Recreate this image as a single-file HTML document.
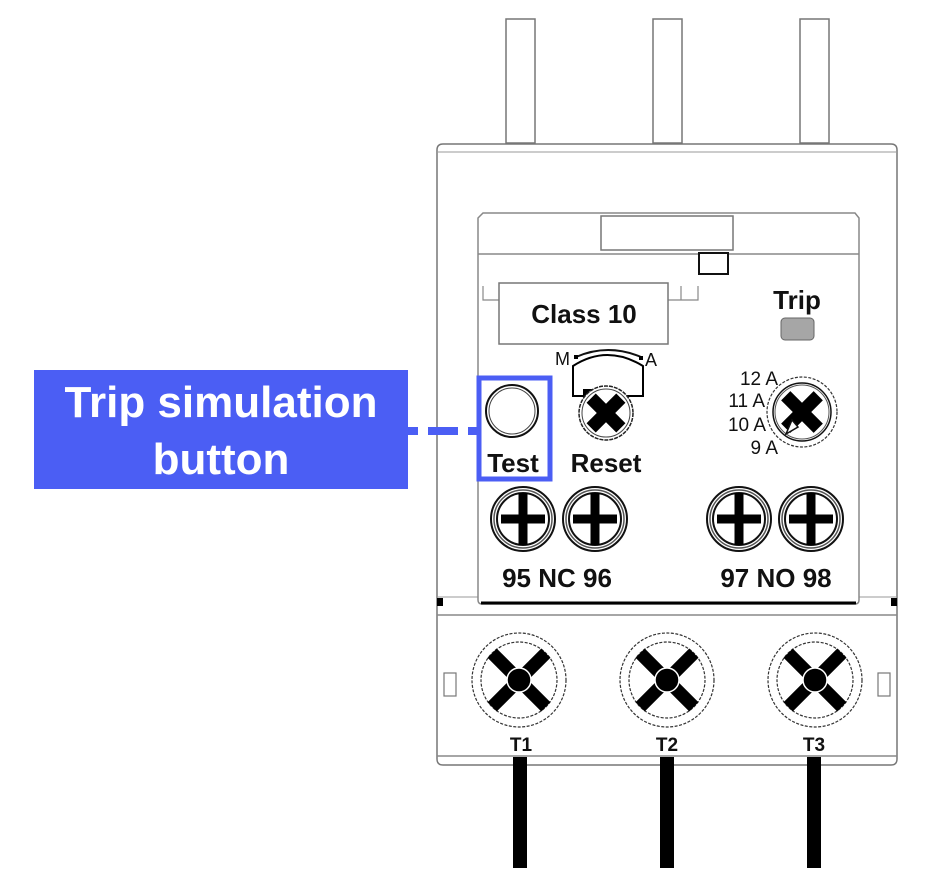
<!DOCTYPE html>
<html><head><meta charset="utf-8"><style>
html,body{margin:0;padding:0;background:#fff;}
svg{display:block;}
text{font-family:"Liberation Sans",sans-serif;}
</style></head><body>
<svg width="940" height="880" viewBox="0 0 940 880" xmlns="http://www.w3.org/2000/svg">
<defs>
<g id="plus">
  <circle r="32" fill="#fff" stroke="#111" stroke-width="2"/>
  <circle r="29" fill="none" stroke="#555" stroke-width="1.5"/>
  <circle r="26" fill="none" stroke="#111" stroke-width="2"/>
  <rect x="-4.5" y="-26" width="9" height="52" fill="#000"/>
  <rect x="-22" y="-4.5" width="44" height="9" fill="#000"/>
</g>
<g id="big">
  <circle r="47" fill="#fff" stroke="#333" stroke-width="1.2" stroke-dasharray="3 1.5"/>
  <circle r="38" fill="none" stroke="#333" stroke-width="1.2" stroke-dasharray="3 1.5"/>
  <g transform="rotate(45)">
    <rect x="-6.5" y="-38" width="13" height="76" fill="#000"/>
    <rect x="-38" y="-6.5" width="76" height="13" fill="#000"/>
  </g>
  <circle r="12" fill="#000" stroke="#fff" stroke-width="1.5"/>
</g>
</defs>

<!-- prongs -->
<g fill="#fff" stroke="#777" stroke-width="1.5">
<rect x="506" y="19" width="29" height="124"/>
<rect x="653" y="19" width="29" height="124"/>
<rect x="800" y="19" width="29" height="124"/>
</g>
<!-- body -->
<path d="M443 144 H891 Q897 144 897 150 V759 Q897 765 891 765 H443 Q437 765 437 759 V150 Q437 144 443 144 Z" fill="#fff" stroke="#777" stroke-width="1.5"/>
<line x1="437" y1="152" x2="897" y2="152" stroke="#999" stroke-width="1"/>
<line x1="437" y1="615" x2="897" y2="615" stroke="#888" stroke-width="1.5"/>
<line x1="437" y1="756" x2="897" y2="756" stroke="#888" stroke-width="1.5"/>
<line x1="437" y1="597" x2="478" y2="597" stroke="#999" stroke-width="1"/>
<line x1="859" y1="597" x2="897" y2="597" stroke="#999" stroke-width="1"/>
<rect x="437" y="598" width="6" height="8" fill="#000"/>
<rect x="891" y="598" width="6" height="8" fill="#000"/>

<!-- inner panel -->
<path d="M478 218 L483 213 H855 L859 218 V600 Q859 604 855 604 H482 Q478 604 478 600 Z" fill="#fff" stroke="#888" stroke-width="1.5"/>
<line x1="481" y1="603" x2="856" y2="603" stroke="#000" stroke-width="3"/>
<line x1="478" y1="254" x2="859" y2="254" stroke="#888" stroke-width="1.5"/>
<rect x="601" y="216" width="132" height="34" fill="#fff" stroke="#777" stroke-width="1.5"/>
<rect x="699" y="253" width="29" height="21" fill="#fff" stroke="#111" stroke-width="2"/>

<!-- Class 10 -->
<path d="M483 286 V300 H499 M668 300 H681 V286 M681 300 H698 V286" fill="none" stroke="#888" stroke-width="1.2"/>
<rect x="499" y="283" width="169" height="61" fill="#fff" stroke="#777" stroke-width="1.5"/>
<text x="584" y="323" font-size="26" font-weight="bold" text-anchor="middle" fill="#111">Class 10</text>

<!-- Trip -->
<text x="797" y="309" font-size="26" font-weight="bold" text-anchor="middle" fill="#111">Trip</text>
<rect x="781" y="318" width="33" height="22" rx="4" fill="#a6a6a6" stroke="#666" stroke-width="1"/>

<!-- M/A -->
<text x="555" y="365" font-size="18" fill="#111">M</text>
<text x="645" y="366" font-size="18" fill="#111">A</text>
<path d="M576 357 Q608 343 641 357" fill="none" stroke="#111" stroke-width="2"/>
<rect x="574" y="355" width="4" height="4" fill="#000"/>
<rect x="639" y="356" width="4" height="4" fill="#000"/>
<path d="M573 397 V366 Q607 344 643 366 V396 H573" fill="#fff" stroke="#000" stroke-width="2"/>
<rect x="583" y="389" width="12" height="8" fill="#000"/>
<!-- Reset screw -->
<circle cx="606" cy="413" r="27" fill="#fff" stroke="#222" stroke-width="1.5" stroke-dasharray="4 1"/>
<circle cx="606" cy="413" r="24" fill="none" stroke="#444" stroke-width="1"/>
<g transform="translate(606,413) rotate(45)"><rect x="-6.5" y="-21" width="13" height="42" fill="#000"/><rect x="-21" y="-6.5" width="42" height="13" fill="#000"/></g>
<text x="606" y="472" font-size="26" font-weight="bold" text-anchor="middle" fill="#111">Reset</text>

<!-- Test -->
<circle cx="512" cy="411" r="26" fill="#fff" stroke="#111" stroke-width="2"/>
<circle cx="512" cy="411" r="23" fill="none" stroke="#444" stroke-width="1"/>
<text x="513" y="472" font-size="26" font-weight="bold" text-anchor="middle" fill="#111">Test</text>
<rect x="479" y="378" width="71" height="101" fill="none" stroke="#4b5ef4" stroke-width="5"/>

<!-- dial -->
<g font-size="19" fill="#111" text-anchor="end">
<text x="778" y="385">12 A</text>
<text x="765" y="407">11 A</text>
<text x="766" y="431">10 A</text>
<text x="778" y="454">9 A</text>
</g>
<circle cx="802" cy="412" r="35" fill="#fff" stroke="#333" stroke-width="1.2" stroke-dasharray="3 1.5"/>
<circle cx="802" cy="412" r="29" fill="none" stroke="#111" stroke-width="1.5"/>
<circle cx="802" cy="412" r="27" fill="none" stroke="#555" stroke-width="1"/>
<g transform="translate(802,412) rotate(45)"><rect x="-6.5" y="-23" width="13" height="46" fill="#000"/><rect x="-23" y="-6.5" width="46" height="13" fill="#000"/></g>
<path d="M786 434 L792 420 L798 427 Z" fill="#fff" stroke="#111" stroke-width="1.5"/>

<!-- plus screws -->
<use href="#plus" x="523" y="519"/>
<use href="#plus" x="595" y="519"/>
<use href="#plus" x="739" y="519"/>
<use href="#plus" x="811" y="519"/>
<text x="557" y="587" font-size="26" font-weight="bold" text-anchor="middle" fill="#111">95 NC 96</text>
<text x="776" y="587" font-size="26" font-weight="bold" text-anchor="middle" fill="#111">97 NO 98</text>

<!-- lower screws -->
<use href="#big" x="519" y="680"/>
<use href="#big" x="667" y="680"/>
<use href="#big" x="815" y="680"/>
<rect x="444" y="673" width="12" height="23" fill="#fff" stroke="#777" stroke-width="1.2"/>
<rect x="878" y="673" width="12" height="23" fill="#fff" stroke="#777" stroke-width="1.2"/>
<g font-size="19" font-weight="bold" text-anchor="middle" fill="#111">
<text x="521" y="751">T1</text>
<text x="667" y="751">T2</text>
<text x="814" y="751">T3</text>
</g>
<!-- wires -->
<rect x="513" y="757" width="14" height="111" fill="#000"/>
<rect x="660" y="757" width="14" height="111" fill="#000"/>
<rect x="807" y="757" width="14" height="111" fill="#000"/>

<!-- callout -->
<rect x="34" y="370" width="374" height="119" fill="#4b5ef4"/>
<text x="221" y="417" font-size="44" font-weight="bold" text-anchor="middle" fill="#fff">Trip simulation</text>
<text x="221" y="474" font-size="44" font-weight="bold" text-anchor="middle" fill="#fff">button</text>
<rect x="408" y="427" width="10" height="8" fill="#4b5ef4"/>
<rect x="428" y="427" width="30" height="8" fill="#4b5ef4"/>
<rect x="468" y="427" width="10" height="8" fill="#4b5ef4"/>
</svg>
</body></html>
